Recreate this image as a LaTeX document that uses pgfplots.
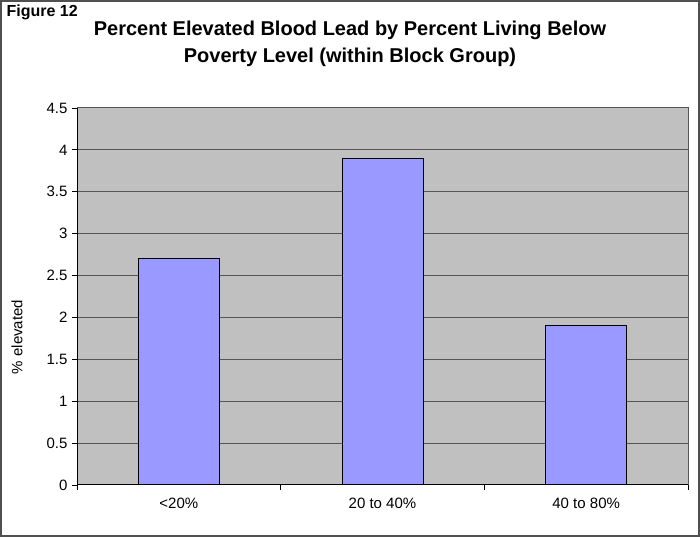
\documentclass[border=0pt]{standalone}
\usepackage{pgfplots}
\pgfplotsset{compat=1.18}
\usepackage{fontspec}
\setmainfont{Liberation Sans}
\definecolor{plotbg}{HTML}{C0C0C0}
\definecolor{barfill}{HTML}{9999FF}
\definecolor{gridc}{HTML}{555555}
\definecolor{frame}{HTML}{505050}
\begin{document}
\begin{tikzpicture}[x=1pt,y=1pt]
\fill[white] (0,0) rectangle (700,537);
\draw[frame,line width=2pt] (1,1) rectangle (699,536);
\node[anchor=base west,font=\fontsize{16}{19}\selectfont\bfseries] at (3,520) {Figure 12};
\node[anchor=base,font=\fontsize{20}{24}\selectfont\bfseries] at (350,501) {Percent Elevated Blood Lead by Percent Living Below};
\node[anchor=base,font=\fontsize{20}{24}\selectfont\bfseries] at (350,474) {Poverty Level (within Block Group)};
\node[rotate=90,font=\fontsize{15}{18}\selectfont] at (17,200) {\% elevated};
\begin{axis}[
  at={(77pt,52pt)}, anchor=south west,
  width=611pt, height=377pt, scale only axis,
  axis x line*=bottom, axis y line*=left,
  xmin=-0.5, xmax=2.5, ymin=0, ymax=4.5,
  ytick={0,0.5,...,4.5},
  yticklabels={0,0.5,1,1.5,2,2.5,3,3.5,4,4.5},
  xtick={0,1,2},
  xticklabels={{<20\%},{20 to 40\%},{40 to 80\%}},
  major tick style={draw=none},
  tick style={draw=none},
  axis background/.style={fill=plotbg},
  axis line style={draw=none},
  /pgf/number format/assume math mode=true,
  ticklabel style={font=\fontsize{15}{18}\selectfont},
  xticklabel style={yshift=-9pt},
  yticklabel style={xshift=-6pt},
  clip=false,
]
\pgfplotsinvokeforeach{0.5,1,1.5,2,2.5,3,3.5,4}{
  \draw[gridc,line width=1pt] (axis cs:-0.5,#1) -- (axis cs:2.5,#1);
}
\pgfplotsinvokeforeach{0,0.5,1,1.5,2,2.5,3,3.5,4,4.5}{
  \draw[black,line width=0.8pt] (axis cs:-0.5,#1) -- ++(-5pt,0pt);
}
\pgfplotsinvokeforeach{-0.5,0.5,1.5,2.5}{
  \draw[black,line width=0.8pt] (axis cs:#1,0) -- ++(0pt,-5pt);
}
\draw[gridc,line width=1pt] (axis cs:-0.5,4.5) -- (axis cs:2.5,4.5) -- (axis cs:2.5,0);
\addplot[ybar, bar width=81pt, fill=barfill, draw=black, line width=1pt] coordinates {(0,2.7) (1,3.9) (2,1.9)};
\draw[black,line width=1pt] (axis cs:-0.5,4.5) -- (axis cs:-0.5,0) -- (axis cs:2.5,0);
\end{axis}
\end{tikzpicture}
\end{document}
